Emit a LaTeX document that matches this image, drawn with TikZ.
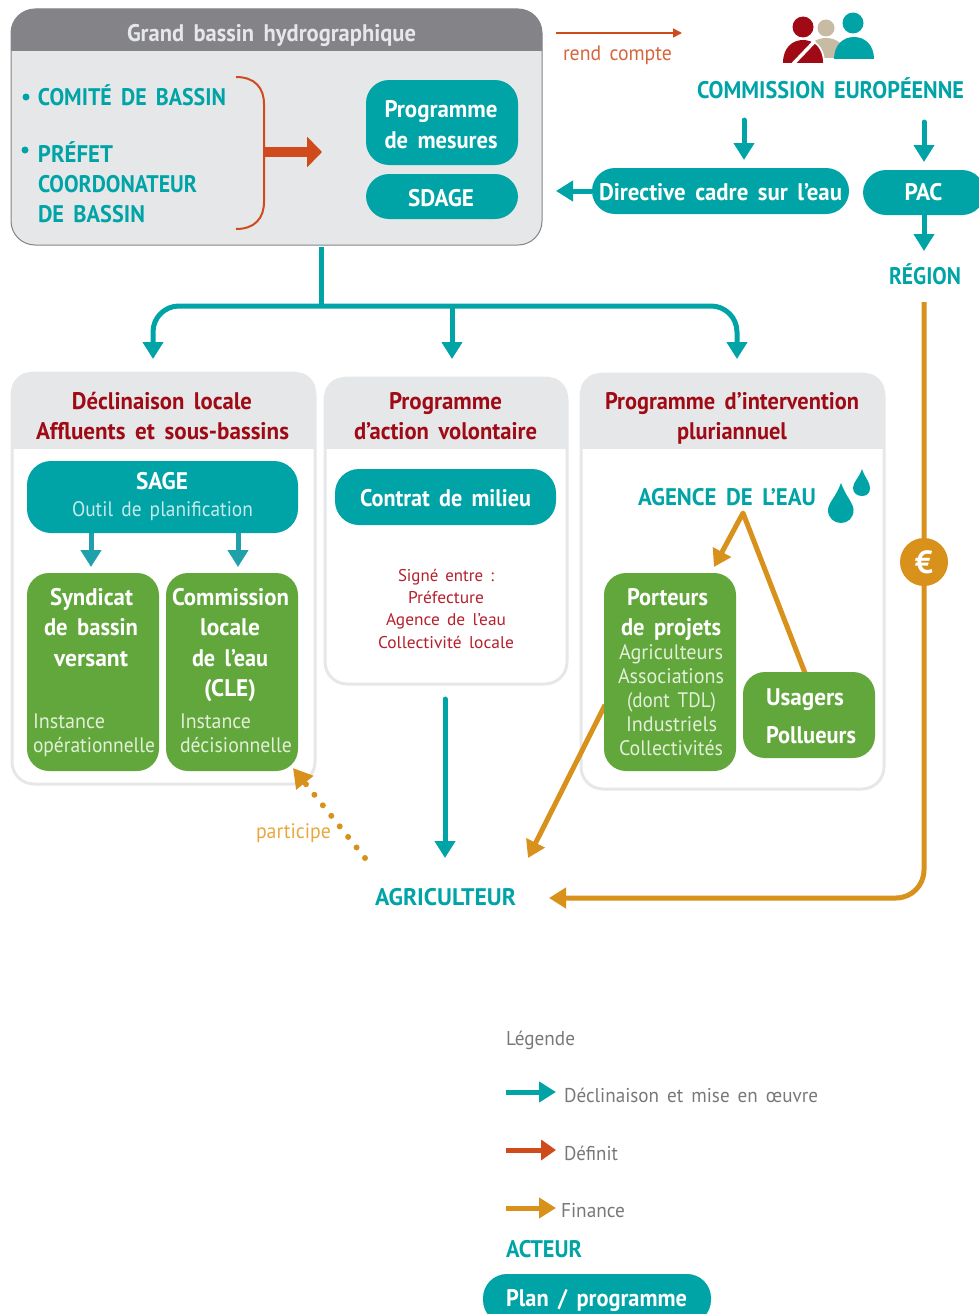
\documentclass[tikz,border=0pt]{standalone}
\usepackage{fontspec}
\usepackage{graphicx}
\setmainfont{PT Sans}
\usetikzlibrary{arrows.meta}
\definecolor{teal1}{HTML}{00A4A7}
\definecolor{teal2}{HTML}{1FA0AB}
\definecolor{redor}{HTML}{CF4B1B}
\definecolor{orange1}{HTML}{D8911B}
\definecolor{orange2}{HTML}{E8A83F}
\definecolor{green1}{HTML}{62A73B}
\definecolor{dred}{HTML}{A00A14}
\definecolor{mred}{HTML}{B5202C}
\definecolor{hgrey}{HTML}{848488}
\definecolor{lgrey}{HTML}{E6E7E9}
\definecolor{tgrey}{HTML}{77787B}
\definecolor{beige}{HTML}{C8BBA3}
\definecolor{lteal}{HTML}{C6EAE9}
\definecolor{lgreen}{HTML}{E2EFD9}
\newsavebox\fitbox
\newcommand\fitw[2]{\sbox\fitbox{\spaceskip=.42em #2}\pgfmathsetmacro\fitr{(#1)/\the\wd\fitbox}\scalebox{\fitr}[1]{\usebox\fitbox}}
% lowers its content by #1 without changing the reported size
\newcommand\lowr[2]{\raisebox{-#1}[\height][\depth]{#2}}
% name, x0, x1, baseline, style, text
\newcommand\tl[6]{\node[#5,anchor=base,inner sep=0pt,outer sep=0pt] (#1) at ({(#2+#3)/2},#4) {\fitw{#3-#2}{#6}};}
% name, x0, y0, x1, y1, style, text
\newcommand\bx[7]{\node[#6,minimum width={#4-#2},minimum height={#5-#3}] (#1) at ({(#2+#4)/2},{(#3+#5)/2}) {#7};}
% name, x0, y0, x1, y1, header bottom, radius, header colour, border colour
\newcommand\panel[9]{%
\node[draw=#9,fill=white,line width=3pt,rounded corners=#7,minimum width={#4-#2},minimum height={#5-#3},inner sep=0pt] (#1) at ({(#2+#4)/2},{(#3+#5)/2}) {};
\begin{scope}\clip (#2,#3) rectangle (#4,#6);
\fill[#8,rounded corners=#7] (#2-1.5,#3-1.5) rectangle (#4+1.5,#5);
\end{scope}}
\tikzset{
 fb/.style={font=\fontsize{24}{30}\selectfont\bfseries},
 fr/.style={font=\fontsize{21}{26}\selectfont},
 fs/.style={font=\fontsize{17}{22}\selectfont},
 fl/.style={font=\fontsize{20}{24}\selectfont},
 tealtxt/.style={fb,text=teal1},
 redtxt/.style={fb,text=dred},
 whitetxt/.style={fb,text=white},
 greytxt/.style={fl,text=tgrey},
 lightg/.style={fr,text=lgreen},
 tbox/.style={fill=teal1,text=white,fb,rounded corners=23pt,inner sep=0pt,align=center},
 gbox/.style={fill=green1,rounded corners=22pt,inner sep=0pt},
 aT/.style={-{Triangle[length=17pt,width=20pt]},line width=5pt,draw=teal1},
 aT2/.style={-{Triangle[length=17pt,width=20pt]},line width=5pt,draw=teal2},
 aR/.style={-{Triangle[length=15pt,width=20pt]},line width=5pt,draw=redor},
 aO/.style={-{Triangle[length=17pt,width=20pt]},line width=5pt,draw=orange1},
}
\begin{document}
\begin{tikzpicture}[x=1pt,y=-1pt]
\useasboundingbox (0,0) rectangle (979,1314);
\clip (0,0) rectangle (979,1314);
% Grand bassin
\node[draw=hgrey,fill=lgrey,line width=1pt,rounded corners=24pt,minimum width=531pt,minimum height=236pt,inner sep=0pt] (gb) at (276.5,127) {};
\begin{scope}\clip (10,8) rectangle (543,51);
\fill[hgrey,rounded corners=24pt] (11,9) rectangle (542,245);
\end{scope}
\tl{gbt}{127}{416}{42}{fb,text=lgrey}{Grand bassin hydrographique}
\fill[teal1] (26,97) circle (3.5);
\fill[teal1] (25,150) circle (3.5);
\tl{cb}{38}{226}{105}{tealtxt}{COMITÉ DE BASSIN}
\tl{pf}{38}{113}{162}{tealtxt}{PRÉFET}
\tl{co}{38}{197}{192}{tealtxt}{COORDONATEUR}
\tl{db}{38}{145}{222}{tealtxt}{DE BASSIN}
\coordinate (brTop) at (236,77);
\coordinate (brBot) at (236,229);
\coordinate (brMid) at (265,152);
\coordinate (brTip) at (322,152);
\draw[redor,line width=2pt] (brTop) .. controls (255,77) and (264,88) .. (264,104) -- (264,202) .. controls (264,218) and (255,229) .. (brBot);
\draw[-{Triangle[length=15pt,width=30pt]},line width=10pt,draw=redor] (brMid) -- (brTip);
\bx{pm}{366}{80}{518}{165}{tbox}{\lowr{2pt}{\fitw{113}{Programme}}\hspace*{2pt}\\[1pt]\lowr{2pt}{\fitw{113}{de mesures}}\hspace*{2pt}}
\bx{sd}{366}{174}{518}{219}{tbox}{\lowr{2pt}{\fitw{66}{SDAGE}}\hspace*{2pt}}
% top right
\coordinate (rc0) at (556,33);
\coordinate (rc1) at (682,33);
\draw[-{Triangle[length=9pt,width=9pt]},line width=1.5pt,draw=redor] (rc0) -- (rc1);
\tl{rc}{563}{672}{60}{fr,text=redor!85!white}{rend compte}
% people
\fill[beige] (826,28) circle (8.5);
\fill[beige] (806,58) .. controls (806,45) and (815,38) .. (826,38) .. controls (837,38) and (846,45) .. (846,58) -- cycle;
\fill[dred] (803,27) circle (10.5);
\fill[white] (781,64) .. controls (781,46) and (792,38) .. (803,38) .. controls (814,38) and (825,46) .. (825,64) -- cycle;
\fill[dred] (783,63) .. controls (783,47) and (793,40) .. (803,40) .. controls (813,40) and (823,47) .. (823,63) -- cycle;
\draw[white,line width=3.5pt] (793,64) -- (815,41);
\fill[teal1] (853,23) circle (10.5);
\fill[teal1] (834,59) .. controls (834,45) and (843,37) .. (854,37) .. controls (865,37) and (874,45) .. (874,59) -- cycle;
\tl{ce}{697}{964}{98}{tealtxt}{COMMISSION EUROPÉENNE}
\bx{dc}{592}{168}{849}{214}{tbox}{\lowr{1pt}{\fitw{243}{Directive cadre sur l’eau}}}
\bx{pac}{863}{170}{985}{215}{tbox}{\hspace*{-1pt}\fitw{38}{PAC}}
\tl{reg}{889}{961}{284}{tealtxt}{RÉGION}
\coordinate (ce1) at (744,120);
\coordinate (ce1b) at (744,160);
\coordinate (ce2) at (924,122);
\coordinate (ce2b) at (924,162);
\coordinate (dcL) at (556,191);
\coordinate (pacB) at (924,251);
\draw[aT,line cap=round] (ce1) -- (ce1b);
\draw[aT,line cap=round] (ce2) -- (ce2b);
\draw[aT] (dc.west) -- (dcL);
\draw[aT] (924,215) -- (pacB);
% tree
\coordinate (t0) at (321,247);
\coordinate (t1) at (321,306);
\coordinate (tL) at (153,359);
\coordinate (tM) at (452,359);
\coordinate (tR) at (737,359);
\draw[teal1,line width=5pt] (t0) -- (t1);
\draw[aT,rounded corners=26pt] (t1) -| (tL);
\draw[aT,rounded corners=26pt] (t1) -| (tR);
\draw[aT] (452,306) -- (tM);
% panels
\panel{p1}{12}{373}{315}{784}{448}{22pt}{lgrey}{lgrey}
\panel{p2}{325}{378}{567}{684}{448}{22pt}{lgrey}{lgrey}
\panel{p3}{581}{374}{884}{789}{448}{22pt}{lgrey}{lgrey}
\tl{dl}{72}{252}{409}{redtxt}{Déclinaison locale}
\tl{af}{36}{289}{439}{redtxt}{Affluents et sous-bassins}
\tl{pa}{389}{502}{409}{redtxt}{Programme}
\tl{av}{354}{537}{439}{redtxt}{d’action volontaire}
\tl{pi}{605}{859}{409}{redtxt}{Programme d’intervention}
\tl{pl}{677}{787}{439}{redtxt}{pluriannuel}
% panel 1
\bx{sage}{27}{461}{298}{533}{fill=teal1,rounded corners=24pt,inner sep=0pt}{}
\tl{sg}{136}{188}{489}{whitetxt}{SAGE}
\tl{op}{72}{253}{516}{fr,text=lteal}{Outil de planification}
\coordinate (s1) at (91,533);
\coordinate (s1b) at (91,567);
\coordinate (s2) at (238,533);
\coordinate (s2b) at (238,567);
\draw[aT2] (s1) -- (s1b);
\draw[aT2] (s2) -- (s2b);
\bx{syn}{27}{573}{159}{771}{gbox}{}
\bx{cle}{166}{573}{298}{771}{gbox}{}
\tl{sy1}{50}{133}{605}{whitetxt}{Syndicat}
\tl{sy2}{44}{138}{635}{whitetxt}{de bassin}
\tl{sy3}{54}{128}{666}{whitetxt}{versant}
\tl{sy4}{33}{105}{728}{lightg}{Instance}
\tl{sy5}{33}{155}{752}{lightg}{opérationnelle}
\tl{cl1}{172}{289}{605}{whitetxt}{Commission}
\tl{cl2}{200}{260}{635}{whitetxt}{locale}
\tl{cl3}{192}{268}{666}{whitetxt}{de l’eau}
\tl{cl4}{204}{256}{696}{whitetxt}{(CLE)}
\tl{cl5}{180}{251}{728}{lightg}{Instance}
\tl{cl6}{180}{292}{752}{lightg}{décisionnelle}
% panel 2
\bx{cm}{335}{469}{556}{525}{tbox,rounded corners=24pt}{\lowr{1pt}{\fitw{171}{Contrat de milieu}}}
\tl{si1}{398}{494}{581}{fs,text=mred}{Signé entre :}
\tl{si2}{408}{484}{603}{fs,text=mred}{Préfecture}
\tl{si3}{386}{506}{625}{fs,text=mred}{Agence de l’eau}
\tl{si4}{378}{514}{648}{fs,text=mred}{Collectivité locale}
% panel 3
\tl{ag}{638}{816}{505}{tealtxt}{AGENCE DE L’EAU}
\fill[teal1] (841,483) .. controls (836,497) and (828,503) .. (828,510) .. controls (828,518) and (834,523) .. (841,523) .. controls (848,523) and (853.5,518) .. (853.5,510) .. controls (853.5,503) and (846,497) .. (841,483) -- cycle;
\fill[teal1] (862,469) .. controls (859,478) and (853,482) .. (853,488) .. controls (853,493) and (857,496) .. (862,496) .. controls (867,496) and (870,493) .. (870,488) .. controls (870,482) and (865,478) .. (862,469) -- cycle;
\coordinate (ap) at (743,513);
\coordinate (apB) at (714,567);
\coordinate (apU) at (805,673);
\coordinate (pA) at (605,705);
\coordinate (pB) at (528,858);
\draw[aO,line join=round] (apU) -- (ap) -- (apB);
\draw[aO] (pA) -- (pB);
\bx{por}{604}{573}{736}{771}{gbox}{}
\bx{usa}{743}{672}{875}{758}{gbox}{}
\tl{po1}{627}{708}{605}{whitetxt}{Porteurs}
\tl{po2}{621}{721}{635}{whitetxt}{de projets}
\tl{po3}{619}{723}{659}{lightg}{Agriculteurs}
\tl{po4}{618}{724}{683}{lightg}{Associations}
\tl{po5}{627}{716}{707}{lightg}{(dont TDL)}
\tl{po6}{626}{717}{731}{lightg}{Industriels}
\tl{po7}{619}{723}{755}{lightg}{Collectivités}
\tl{us1}{766}{844}{705}{whitetxt}{Usagers}
\tl{us2}{766}{856}{743}{whitetxt}{Pollueurs}
% region line
\coordinate (rg0) at (924,302);
\coordinate (rg1) at (549,898);
\draw[aO,rounded corners=28pt] (rg0) |- (rg1);
\node[circle,fill=orange1,text=white,minimum size=48pt,inner sep=0pt,font=\fontsize{32}{32}\selectfont\bfseries] (eur) at (924,562) {€};
% agriculteur
\tl{agr}{375}{516}{905}{tealtxt}{AGRICULTEUR}
\coordinate (m0) at (445,699);
\coordinate (m1) at (445,858);
\draw[aT,line cap=round] (m0) -- (m1);
\coordinate (dA) at (365,858);
\coordinate (dB) at (293,768);
\draw[-{Triangle[length=19pt,width=21pt]},line width=6pt,draw=orange1,line cap=round,dash pattern=on 0pt off 13.5pt] (dA) -- (dB);
\tl{part}{256}{331}{838}{fr,text=orange2}{participe}
% legend
\tl{leg}{506}{575}{1045}{greytxt}{Légende}
\coordinate (l1a) at (506,1092);
\coordinate (l1b) at (556,1092);
\coordinate (l2a) at (506,1150);
\coordinate (l2b) at (556,1150);
\coordinate (l3a) at (506,1208);
\coordinate (l3b) at (556,1208);
\draw[aT] (l1a) -- (l1b);
\draw[aR] (l2a) -- (l2b);
\draw[aO] (l3a) -- (l3b);
\tl{l1}{564}{818}{1102}{greytxt}{Déclinaison et mise en œuvre}
\tl{l2}{564}{618}{1160}{greytxt}{Définit}
\tl{l3}{561}{625}{1217}{greytxt}{Finance}
\tl{act}{506}{582}{1257}{tealtxt}{ACTEUR}
\bx{plan}{483}{1274}{711}{1324}{fill=teal1,rounded corners=24pt,inner sep=0pt}{}
\tl{plt}{506}{687}{1306}{whitetxt}{Plan / programme}
\end{tikzpicture}
\end{document}
